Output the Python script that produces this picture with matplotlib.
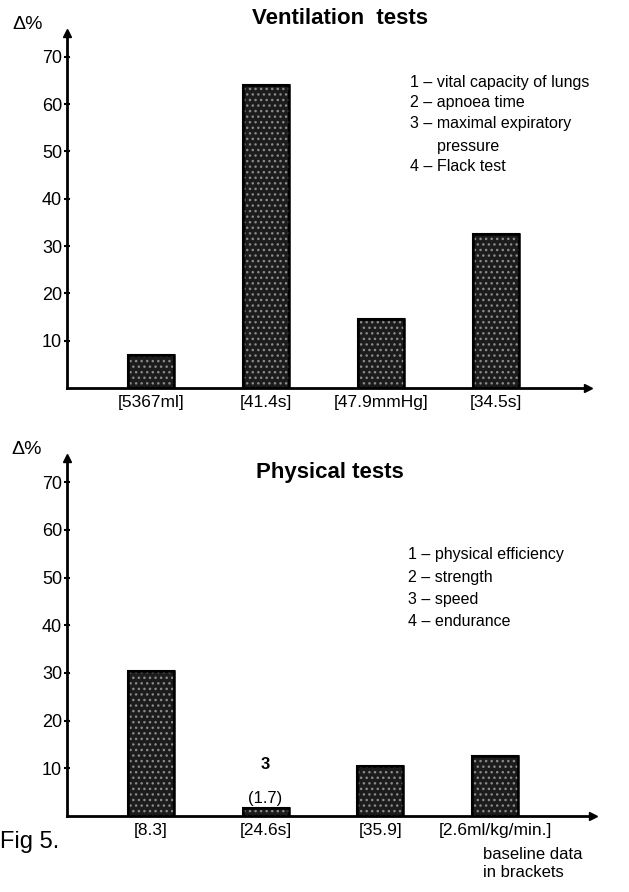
import matplotlib
matplotlib.use('Agg')
import matplotlib.pyplot as plt

plt.rcParams['font.family'] = ['Liberation Sans', 'DejaVu Sans']

# data
vent_labels = ['[5367ml]', '[41.4s]', '[47.9mmHg]', '[34.5s]']
vent_values = [7.0, 64.0, 14.5, 32.5]
vent_legend = ['1 \u2013 vital capacity of lungs', '2 \u2013 apnoea time',
               '3 \u2013 maximal expiratory', '      pressure', '4 \u2013 Flack test']

phys_labels = ['[8.3]', '[24.6s]', '[35.9]', '[2.6ml/kg/min.]']
phys_values = [30.5, 1.7, 10.5, 12.5]
phys_legend = ['1 \u2013 physical efficiency', '2 \u2013 strength',
               '3 \u2013 speed', '4 \u2013 endurance']

yticks = [10, 20, 30, 40, 50, 60, 70]
xpos = [1, 2, 3, 4]

fig = plt.figure(figsize=(6.29, 8.92), dpi=100)
ax1 = fig.add_axes([0.1065, 0.565, 0.828, 0.398])
ax2 = fig.add_axes([0.1065, 0.0852, 0.836, 0.401])


def draw_panel(ax, values, labels, xmax):
    ax.bar(xpos, values, width=0.4, color='#1c1c1c', edgecolor='black', linewidth=1.5, zorder=2)
    # speckle texture
    ax.bar(xpos, values, width=0.4, color='none', edgecolor='#8a8a8a', hatch='...',
           linewidth=0, zorder=3)
    ax.bar(xpos, values, width=0.4, color='none', edgecolor='black', linewidth=1.8, zorder=4)
    ax.set_xlim(0.27, xmax)
    ax.set_ylim(0, 75)
    for s in ['top', 'right']:
        ax.spines[s].set_visible(False)
    ax.spines['left'].set_linewidth(2)
    ax.spines['bottom'].set_linewidth(2)
    ax.plot(1, 0, '>k', markersize=6, transform=ax.transAxes, clip_on=False)
    ax.plot(0, 1, '^k', markersize=6, transform=ax.transAxes, clip_on=False)
    ax.set_yticks(yticks)
    ax.set_yticklabels([str(t) for t in yticks], fontsize=13)
    ax.tick_params(axis='y', direction='inout', length=5, width=1.5, pad=1)
    ax.set_xticks(xpos)
    ax.set_xticklabels(labels, fontsize=12.5)
    ax.tick_params(axis='x', length=0, pad=5)
    ax.text(-0.105, 1.0, '\u0394%', transform=ax.transAxes, fontsize=14, ha='left', va='bottom')


draw_panel(ax1, vent_values, vent_labels, 4.8)
draw_panel(ax2, phys_values, phys_labels, 4.85)

# titles
fig.text(0.54, 0.979, 'Ventilation  tests', ha='center', va='center', fontsize=16, fontweight='bold')
fig.text(0.525, 0.47, 'Physical tests', ha='center', va='center', fontsize=16, fontweight='bold')

# legends
ly = [0.908, 0.885, 0.861, 0.836, 0.813]
for t, y in zip(vent_legend, ly):
    fig.text(0.652, y, t, ha='left', va='center', fontsize=11.5)
ly2 = [0.378, 0.353, 0.328, 0.303]
for t, y in zip(phys_legend, ly2):
    fig.text(0.649, y, t, ha='left', va='center', fontsize=11.5)

# annotations on speed bar
ax2.text(2, phys_values[1] + 7.5, '3', ha='center', va='bottom', fontsize=12, fontweight='bold')
ax2.text(2, phys_values[1] + 0.3, '(1.7)', ha='center', va='bottom', fontsize=12)

fig.text(0.0, 0.056, 'Fig 5.', ha='left', va='center', fontsize=17)
fig.text(0.768, 0.032, 'baseline data\nin brackets', ha='left', va='center', fontsize=12,
         linespacing=1.2)

fig.savefig('out.png', dpi=100)
